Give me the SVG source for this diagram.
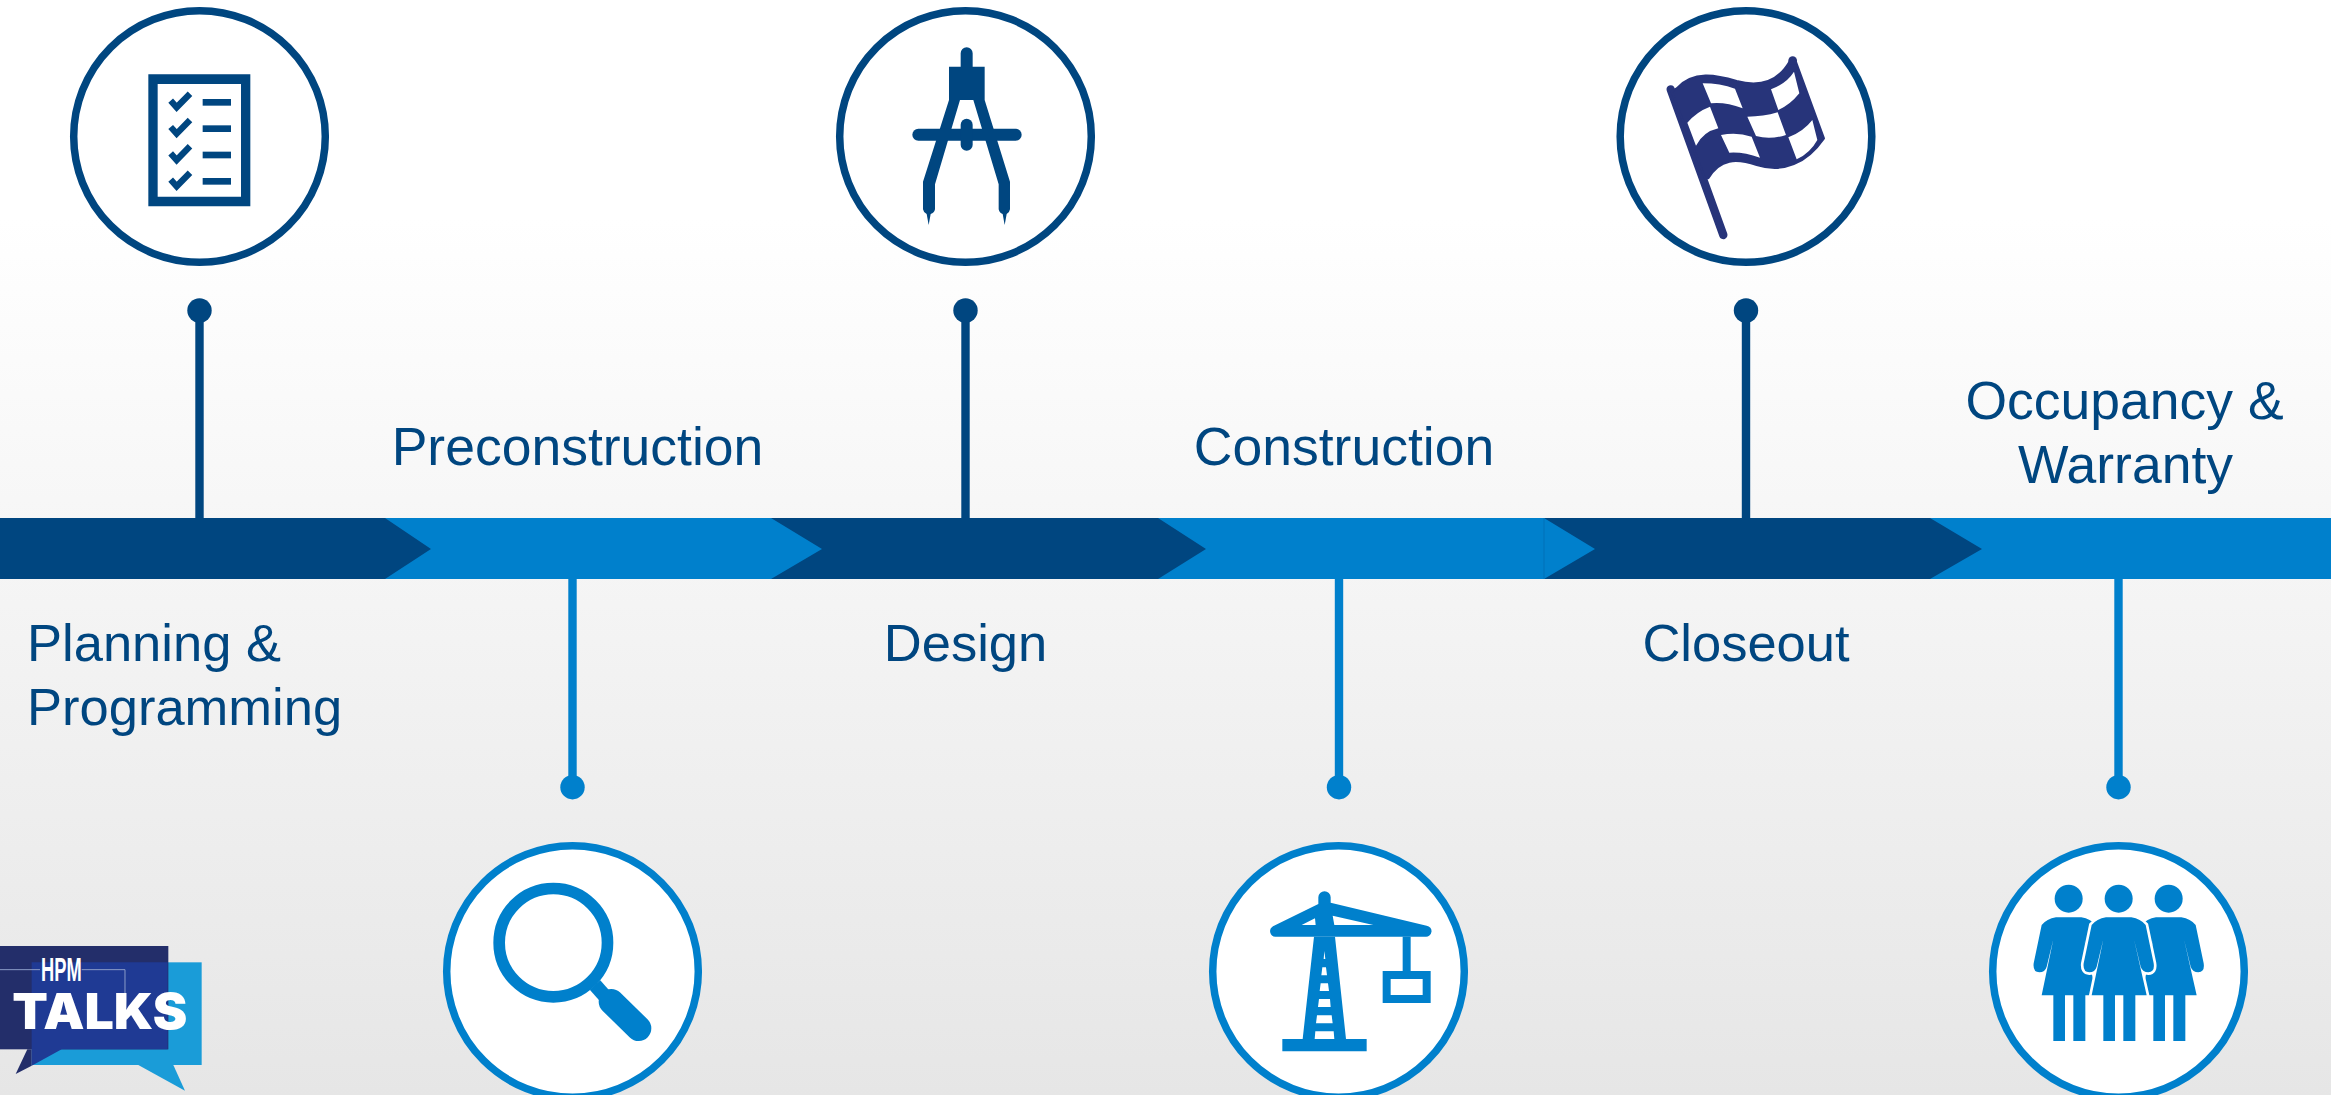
<svg xmlns="http://www.w3.org/2000/svg" width="2331" height="1095" viewBox="0 0 2331 1095">
<style>
.lbl{font-family:"Liberation Sans",Arial,sans-serif;font-size:52.500px;fill:#004680}
.top{font-size:53.500px}
.m{text-anchor:middle}
.ring{fill:#fff;stroke-width:7.500}
.d{fill:#004680}.l{fill:#0080cc}
.ds{stroke:#004680}.ls{stroke:#0080cc}
.stem{stroke-width:8.400;fill:none}
</style>
<defs>
<linearGradient id="bg" x1="0" y1="0" x2="0" y2="1"><stop offset="0.2" stop-color="#ffffff"/><stop offset="1" stop-color="#e6e6e6"/></linearGradient>
<path id="woman" d="M378 247Q350 252 335 270L311 385Q308 411 328 412Q345 412 350 395L370 313L335 481H370V618H405V481H430V618H466V481H500L462 313L482 395Q488 412 505 412Q525 411 521 385L497 270Q482 252 454 247Z"/>
<path id="check" d="M332 302L350 322L390 281" fill="none" stroke="#004680" stroke-width="19"/>
</defs>
<rect width="2331" height="1095" fill="url(#bg)"/>
<g id="connectors">
<path class="stem ds" d="M199.500 310V518M965.500 310V518M1746 310V518"/>
<path class="stem ls" d="M572.500 579V787M1339 579V787M2118.500 579V787"/>
<circle class="d" cx="199.500" cy="310.500" r="12.200"/><circle class="d" cx="965.500" cy="310.500" r="12.200"/><circle class="d" cx="1746" cy="310.500" r="12.200"/>
<circle class="l" cx="572.500" cy="787.200" r="12.200"/><circle class="l" cx="1339" cy="787.200" r="12.200"/><circle class="l" cx="2118.500" cy="787.200" r="12.200"/>
</g>
<g id="timeline-bar">
<rect class="d" x="0" y="518" width="2331" height="61"/>
<polygon class="l" points="385,518 771,518 822,549 771,579 385,579 431,549"/>
<polygon class="l" points="1158,518 1544,518 1595,549 1544,579 1158,579 1206,549"/>
<line x1="1544" y1="518" x2="1544" y2="579" stroke="#0070b8" stroke-width="1"/>
<polygon class="l" points="1930,518 2331,518 2331,579 1930,579 1982,549"/>
</g>
<g id="node-planning">
<circle class="ring ds" cx="199.500" cy="136.500" r="125.800"/>
<g transform="translate(60,0) scale(.33333)">
<path class="d" fill-rule="evenodd" d="M265 223H571V619H265ZM293 252V590H543V252Z"/>
<rect class="d" x="428" y="297" width="85" height="20"/><rect class="d" x="428" y="376" width="85" height="20"/><rect class="d" x="428" y="455" width="85" height="20"/><rect class="d" x="428" y="534" width="85" height="20"/>
<use href="#check"/><use href="#check" y="79"/><use href="#check" y="158"/><use href="#check" y="237"/>
</g>
<text class="lbl" x="27" y="661">Planning &amp;</text>
<text class="lbl" x="27" y="725">Programming</text>
</g>
<g id="node-preconstruction">
<circle class="ring ls" cx="572.500" cy="971.500" r="125.800"/>
<g transform="translate(440,835) scale(.33333)">
<circle cx="340" cy="323" r="162.500" fill="none" stroke="#0080cc" stroke-width="35"/>
<path d="M465 450L505 495" stroke="#0080cc" stroke-width="42" fill="none"/>
<path d="M514 500L596 580" stroke="#0080cc" stroke-width="76" stroke-linecap="round" fill="none"/>
</g>
<text class="lbl top m" x="577.500" y="465">Preconstruction</text>
</g>
<g id="node-design">
<circle class="ring ds" cx="965.500" cy="136.500" r="125.800"/>
<g transform="translate(830,0) scale(.33333)">
<path class="d" d="M392 160A18 18 0 0 1 428 160V200H464V300L540 545V628A18 18 0 0 1 530 642L524 675L518 642A18 18 0 0 1 506 628V553L430 300H390L315 553V628A18 18 0 0 1 302 642L296 675L290 642A18 18 0 0 1 279 628V545L357 300V200H392Z"/>
<rect class="d" x="247" y="386" width="328" height="36" rx="18"/>
<rect class="d" x="392" y="356" width="36" height="96" rx="18"/>
</g>
<text class="lbl m" x="965.500" y="661">Design</text>
</g>
<g id="node-construction">
<circle class="ring ls" cx="1338.500" cy="971.500" r="125.800"/>
<g transform="translate(1200,835) scale(.33333)">
<path class="l" d="M342 305H405L438 612H500V649H247V612H308ZM373 348L371 372H376ZM367 397L364 421H381L378 397ZM362 445L359 468H387L384 445ZM357 492L354 516H392L390 492ZM351 541L348 565H398L395 541ZM346 589L344 612H403L401 589Z" fill-rule="evenodd"/>
<path class="l" fill-rule="evenodd" d="M355 187A18.500 18.500 0 0 1 392 187V203L680 272A16.500 16.500 0 0 1 676 305H226A16.500 16.500 0 0 1 219 274L355 207ZM345 250L305 270H347ZM398 242L403 270H520Z"/>
<rect class="l" x="608" y="305" width="24" height="105"/>
<path class="l" fill-rule="evenodd" d="M548 408H692V504H548ZM572 432V480H668V432Z"/>
</g>
<text class="lbl top m" x="1344" y="465">Construction</text>
</g>
<g id="node-closeout">
<circle class="ring ds" cx="1746" cy="136.500" r="125.800"/>
<g transform="translate(1610,0) scale(.33333)">
<path d="M182 268L340 705" stroke="#27347a" stroke-width="25" stroke-linecap="round" fill="none"/>
<path fill="#27347a" stroke="#27347a" stroke-width="6" stroke-linejoin="round" d="M185 275L200 265C250 210 320 225 380 243C450 262 505 245 540 182L556 180L642 415C590 490 520 520 440 495C380 475 330 475 295 535L285 535Z"/>
<circle cx="548" cy="182" r="13" fill="#27347a"/>
<g fill="#fff">
<path d="M278 250Q330 250 375 266L398 325Q345 305 303 310Z"/>
<path d="M483 268Q530 250 552 215L568 280Q540 315 505 330Z"/>
<path d="M232 368Q260 335 300 320L325 385Q280 395 258 437Z"/>
<path d="M412 350Q460 350 503 337L528 405Q480 420 438 408Z"/>
<path d="M333 405Q380 395 425 410L450 473Q400 455 358 458Z"/>
<path d="M535 412Q580 395 607 360L622 420Q600 460 560 478Z"/>
</g>
</g>
<text class="lbl m" x="1746" y="661">Closeout</text>
</g>
<g id="node-occupancy">
<circle class="ring ls" cx="2118.500" cy="971.500" r="125.800"/>
<g transform="translate(1980,835) scale(.33333)" class="l">
<circle cx="266" cy="191" r="42"/><circle cx="416" cy="191" r="42"/><circle cx="566" cy="191" r="42"/>
<use href="#woman" x="-150"/><use href="#woman" x="150"/>
<use href="#woman" stroke="#fff" stroke-width="16" paint-order="stroke"/>
</g>
<text class="lbl top m" x="2124.500" y="419">Occupancy &amp;</text>
<text class="lbl top m" x="2125.500" y="483">Warranty</text>
</g>
<g id="logo" transform="translate(0,900) scale(.33333)">
<rect x="95" y="187" width="510" height="308" fill="#1a9cd8"/>
<polygon points="415,495 555,572 520,495" fill="#1a9cd8"/>
<rect x="0" y="138" width="505" height="310" fill="#232e6a"/>
<polygon points="82,448 47,522 95,497 95,448" fill="#232e6a"/>
<polygon points="95,187 503,187 503,448 185,448 95,497" fill="#1f3a94"/>
<path d="M0 209H120M245 209H375V280" fill="none" stroke="#8c9dc8" stroke-width="3"/>
<text x="123" y="242" font-family="'Liberation Sans',sans-serif" font-weight="700" font-size="100" fill="#fff" textLength="122" lengthAdjust="spacingAndGlyphs">HPM</text>
<text x="37" y="387" font-family="Inter,'Liberation Sans',sans-serif" font-weight="900" font-size="148" fill="#fff" textLength="525" lengthAdjust="spacingAndGlyphs">TALKS</text>
</g>
</svg>
